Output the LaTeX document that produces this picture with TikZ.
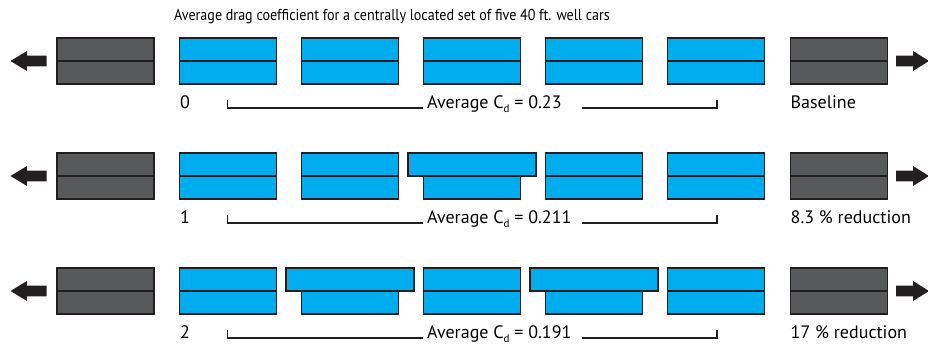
\documentclass[tikz,border=0pt]{standalone}
\usepackage{fontspec}
\setmainfont{PT Sans}
\usetikzlibrary{calc}
\definecolor{carblue}{HTML}{00AEEF}
\definecolor{cargrey}{HTML}{58595B}
\definecolor{outline}{HTML}{231F20}
\tikzset{
  wellcar/.style={draw=outline,line width=1.6pt,fill=carblue},
  loco/.style={draw=outline,line width=1.6pt,fill=cargrey},
  label/.style={font=\fontsize{18}{20}\selectfont,inner sep=0pt,anchor=base west},
  heading/.style={font=\fontsize{15.8}{18}\selectfont,inner sep=0pt,anchor=base west},
  bracket/.style={draw=outline,line width=1.6pt},
  pusharrow/.style={fill=outline}
}
\begin{document}
\begin{tikzpicture}[x=1pt,y=-1pt]
  \useasboundingbox (0,0) rectangle (928,346);
  % Title
  \node[heading] (title) at (174,20) {\scalebox{0.89}[1]{Average drag coefficient for a centrally located set of five 40 ft. well cars}};
  % Three rows
  \foreach \r/\num/\cd/\res in {0/0/0.23/Baseline, 1/1/0.211/8.3 \% reduction, 2/2/0.191/17 \% reduction} {
    \pgfmathsetmacro\top{38+115*\r}
    \pgfmathsetmacro\mid{\top+23}
    \pgfmathsetmacro\bot{\top+46}
    \pgfmathsetmacro\base{108+115*\r}
    % Locomotives and arrows
    \filldraw[loco] (57,\top) rectangle (154,\mid);
    \filldraw[loco] (57,\mid) rectangle (154,\bot);
    \filldraw[loco] (790.5,\top) rectangle (887.5,\mid);
    \filldraw[loco] (790.5,\mid) rectangle (887.5,\bot);
    \fill[pusharrow] (10.5,\mid) -- (27,\mid-10) -- (27,\mid-5.3) -- (46.5,\mid-5.3)
      -- (46.5,\mid+5.3) -- (27,\mid+5.3) -- (27,\mid+10) -- cycle;
    \fill[pusharrow] (929,\mid) -- (913,\mid-10) -- (913,\mid-5.3) -- (896,\mid-5.3)
      -- (896,\mid+5.3) -- (913,\mid+5.3) -- (913,\mid+10) -- cycle;
    % Well cars
    \foreach \i in {1,...,5} {
      \pgfmathsetmacro\xl{179.5+122*(\i-1)}
      \filldraw[wellcar] (\xl,\top) rectangle (\xl+97,\mid);
      \filldraw[wellcar] (\xl,\mid) rectangle (\xl+97,\bot);
    }
    % Labels
    \node[label] (num\r) at (180,\base) {\num};
    \node[label,inner xsep=4pt] (avg\r) at (423,\base) {Average C\raisebox{-0.45ex}{\fontsize{11}{12}\selectfont d} = \cd};
    \node[label] (res\r) at (790.5,\base) {\res};
    % Bracket
    \coordinate (lt\r) at (227.5,\base-8);
    \coordinate (rs\r) at (582,\base);
    \coordinate (rt\r) at (717,\base-8);
    \draw[bracket] (lt\r) |- (avg\r.base west);
    \draw[bracket] (rs\r) -| (rt\r);
  }
  % Modified cars (wider upper part)
  \foreach \r/\i in {1/3, 2/2, 2/4} {
    \pgfmathsetmacro\top{38+115*\r}
    \pgfmathsetmacro\xl{179.5+122*(\i-1)}
    \filldraw[wellcar] (\xl-15.5,\top) rectangle (\xl+112.5,\top+23);
  }
\end{tikzpicture}
\end{document}
